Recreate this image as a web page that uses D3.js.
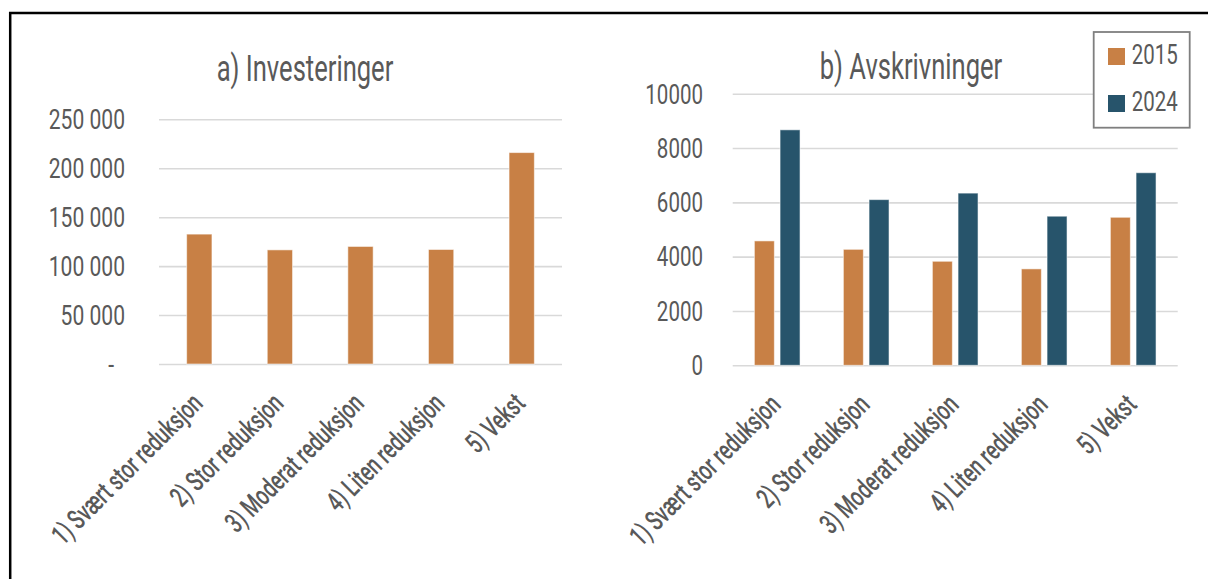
<!DOCTYPE html>
<html>
<head>
<meta charset="utf-8">
<script src="https://cdn.jsdelivr.net/npm/d3@7"></script>
<style>
  html, body { margin: 0; padding: 0; background: #fff; }
  svg { display: block; }
  text { font-family: Roboto, "Liberation Sans", sans-serif; fill: #595959; }
</style>
</head>
<body>
<svg id="chart" width="1208" height="579"></svg>
<script>
// ---- data ----
const categories = ["1) Svært stor reduksjon", "2) Stor reduksjon", "3) Moderat reduksjon", "4) Liten reduksjon", "5) Vekst"];
const investeringer = [132700, 116600, 120100, 117000, 216000];
const seriesNames = ["2015", "2024"];
const avskrivninger2015 = [4580, 4270, 3830, 3550, 5450];
const avskrivninger2024 = [8670, 6100, 6340, 5490, 7090];
const ticksA = [0, 50000, 100000, 150000, 200000, 250000];
const ticksB = [0, 2000, 4000, 6000, 8000, 10000];
const titleA = "a) Investeringer";
const titleB = "b) Avskrivninger";

// ---- styling ----
const colors = { "2015": "#C88045", "2024": "#27546B" };
const gridColor = "#D9D9D9";
const tickFont = 27, titleFont = 36;

const svg = d3.select("#chart");
svg.append("rect").attr("width", 1208).attr("height", 579).attr("fill", "#fff");

// narrow the glyphs horizontally to get a condensed face
function condense(sel, k) {
  sel.each(function () {
    const w = this.getComputedTextLength();
    this.setAttribute("textLength", w * k);
    this.setAttribute("lengthAdjust", "spacingAndGlyphs");
  });
}

const nb = d3.formatLocale({ decimal: ",", thousands: " ", grouping: [3], currency: ["", ""] });
const fmtA = v => v === 0 ? "-" : nb.format(",")(v);

function styleYAxis(g, pad) {
  g.select(".domain").remove();
  g.selectAll(".tick line").attr("stroke", gridColor).attr("stroke-width", 1.6);
  g.selectAll(".tick text")
    .attr("font-size", tickFont)
    .attr("x", -pad)
    .attr("dy", "0.345em")
    .attr("fill", "#595959");
}

function styleXAxis(g) {
  g.select(".domain").remove();
  g.selectAll(".tick line").remove();
  g.selectAll(".tick text")
    .attr("font-size", 28)
    .attr("font-weight", 500)
    .attr("y", 0).attr("dy", 0)
    .attr("text-anchor", "end")
    .attr("transform", "translate(5,41) rotate(-45)")
    .attr("fill", "#595959");
  condense(g.selectAll(".tick text"), 0.68);
}

// ---- panel a: Investeringer ----
{
  const x = d3.scaleBand().domain(categories).range([159, 562]).paddingInner(0.686).paddingOuter(0.343);
  const y = d3.scaleLinear().domain([0, 250000]).range([364, 119.3]);

  const ga = svg.append("g")
    .attr("transform", `translate(${x.range()[0]},0)`)
    .call(d3.axisLeft(y).tickValues(ticksA).tickFormat(fmtA).tickSize(-(x.range()[1] - x.range()[0])).tickPadding(0));
  styleYAxis(ga, 34);
  ga.selectAll(".tick text").filter(d => d === 0).attr("x", -45);
  condense(ga.selectAll(".tick text"), 0.78);

  svg.append("g").selectAll("rect")
    .data(investeringer)
    .join("rect")
    .attr("x", (d, i) => x(categories[i]))
    .attr("y", d => y(d))
    .attr("width", x.bandwidth())
    .attr("height", d => y(0) - y(d))
    .attr("fill", colors["2015"])
    .attr("stroke", "#fff").attr("stroke-opacity", 0.55).attr("stroke-width", 1);

  const gx = svg.append("g").attr("transform", `translate(0,${y(0)})`)
    .call(d3.axisBottom(x).tickSize(0));
  styleXAxis(gx);

  const t = svg.append("text").attr("x", 305).attr("y", 81)
    .attr("text-anchor", "middle").attr("font-size", titleFont).text(titleA);
  condense(t, 0.71);
}

// ---- panel b: Avskrivninger ----
{
  const x0 = d3.scaleBand().domain(categories).range([732.7, 1177.7]).paddingInner(0.487).paddingOuter(0.2435);
  const x1 = d3.scaleBand().domain(seriesNames).range([0, x0.bandwidth()]).paddingInner(0.222);
  const y = d3.scaleLinear().domain([0, 10000]).range([365.3, 93.7]);

  const gb = svg.append("g")
    .attr("transform", `translate(${x0.range()[0]},0)`)
    .call(d3.axisLeft(y).tickValues(ticksB).tickFormat(d3.format("d")).tickSize(-(x0.range()[1] - x0.range()[0])).tickPadding(0));
  styleYAxis(gb, 29.7);
  condense(gb.selectAll(".tick text"), 0.76);

  const rows = categories.map((c, i) => ({ cat: c, values: [avskrivninger2015[i], avskrivninger2024[i]] }));
  svg.append("g").selectAll("g")
    .data(rows)
    .join("g")
    .attr("transform", d => `translate(${x0(d.cat)},0)`)
    .selectAll("rect")
    .data(d => d.values.map((v, j) => ({ key: seriesNames[j], value: v })))
    .join("rect")
    .attr("x", d => x1(d.key))
    .attr("y", d => y(d.value))
    .attr("width", x1.bandwidth())
    .attr("height", d => y(0) - y(d.value))
    .attr("fill", d => colors[d.key])
    .attr("stroke", "#fff").attr("stroke-opacity", 0.55).attr("stroke-width", 1);

  const gx = svg.append("g").attr("transform", `translate(0,${y(0)})`)
    .call(d3.axisBottom(x0).tickSize(0));
  styleXAxis(gx);

  const t = svg.append("text").attr("x", 911).attr("y", 79)
    .attr("text-anchor", "middle").attr("font-size", titleFont).text(titleB);
  condense(t, 0.71);

  // legend
  const lg = svg.append("g").attr("transform", "translate(1093.7,32)");
  lg.append("rect").attr("width", 96).attr("height", 95.7)
    .attr("fill", "#fff").attr("stroke", "#7F7F7F").attr("stroke-width", 1.8);
  const items = lg.selectAll("g.item").data(seriesNames).join("g")
    .attr("class", "item")
    .attr("transform", (d, i) => `translate(14.3,${16 + i * 47})`);
  items.append("rect").attr("width", 17).attr("height", 17).attr("fill", d => colors[d]);
  const lt = items.append("text").attr("x", 23.7).attr("y", 16.4)
    .attr("font-size", 28).text(d => d);
  condense(lt, 0.73);
}

// outer frame
svg.append("path")
  .attr("d", "M10.2,579 V13 H1208")
  .attr("fill", "none").attr("stroke", "#000").attr("stroke-width", 2.5);
</script>
</body>
</html>
